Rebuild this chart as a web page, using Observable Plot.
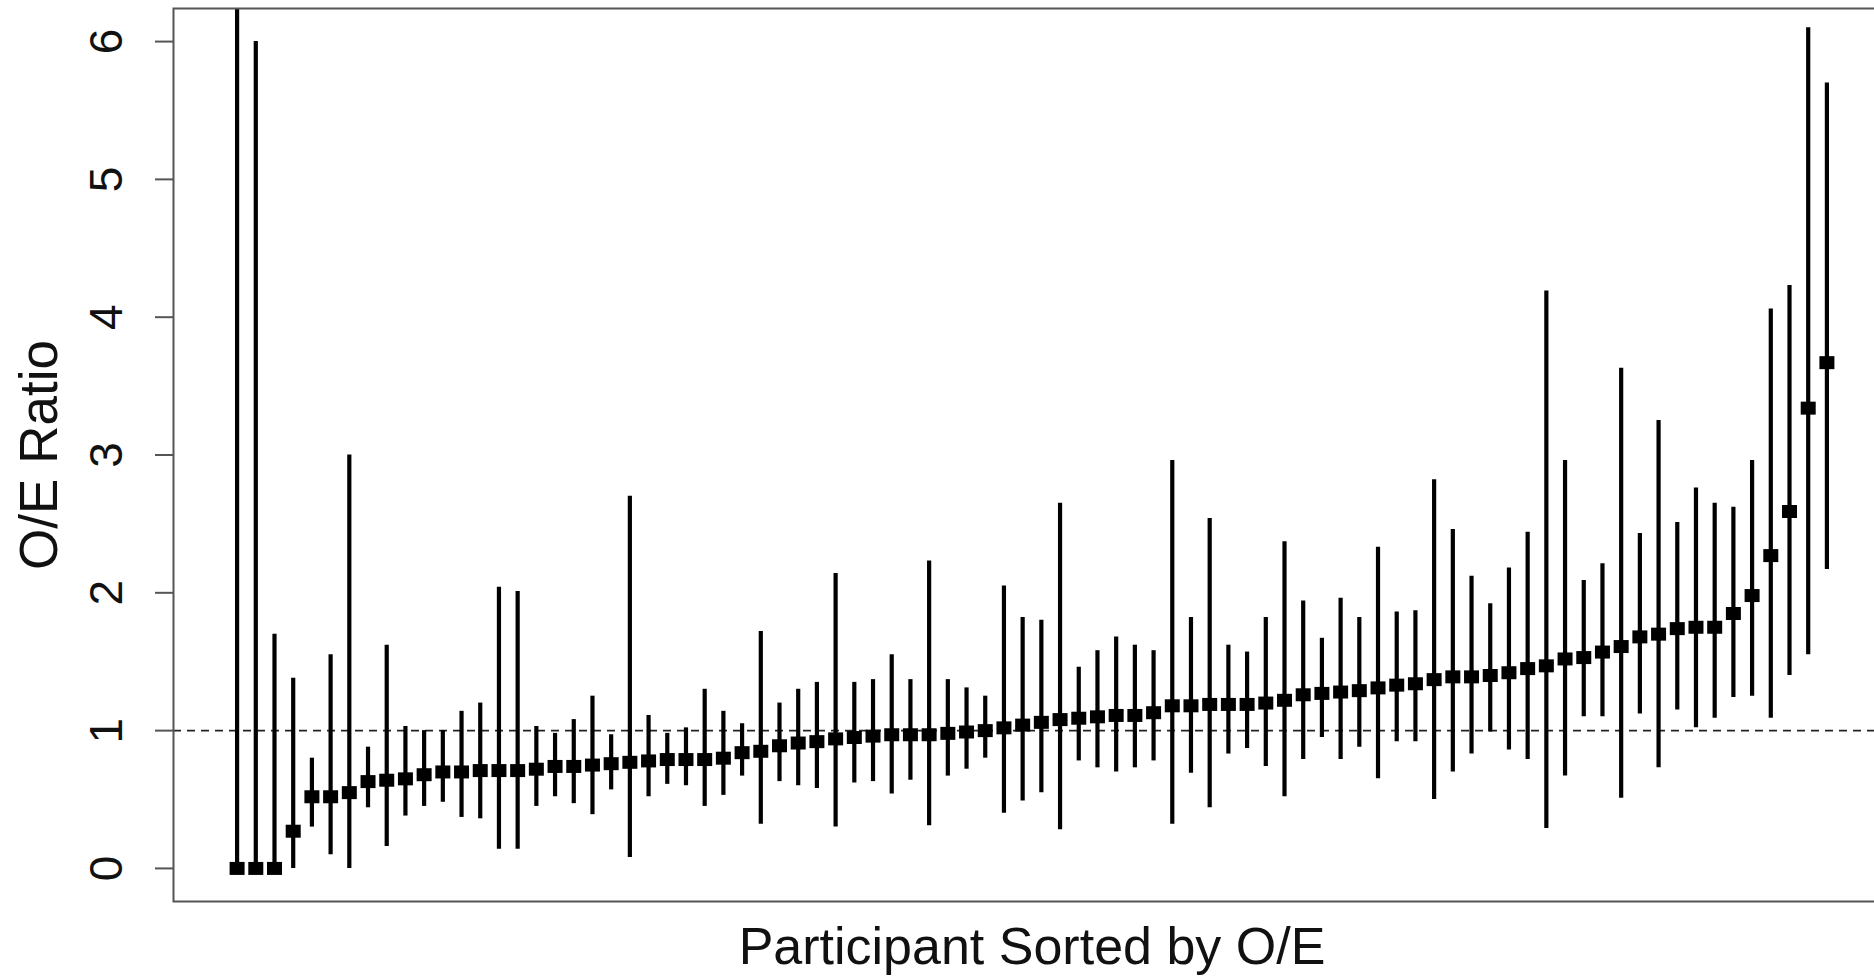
<!DOCTYPE html>
<html>
<head>
<meta charset="utf-8">
<script src="https://cdn.jsdelivr.net/npm/d3@7"></script>
<script src="https://cdn.jsdelivr.net/npm/@observablehq/plot@0.6"></script>
<style>
  html, body { margin: 0; padding: 0; background: #fff; }
  #chart { width: 1874px; height: 976px; overflow: hidden; }
</style>
</head>
<body>
<div id="chart"></div>
<script>
// O/E ratio per participant, sorted by O/E
const oe = [0, 0, 0, 0.27, 0.52, 0.52, 0.55, 0.63, 0.64, 0.65,
  0.68, 0.70, 0.70, 0.71, 0.71, 0.71, 0.72, 0.74, 0.74, 0.75,
  0.76, 0.77, 0.78, 0.79, 0.79, 0.79, 0.80, 0.84, 0.85, 0.89,
  0.91, 0.92, 0.94, 0.95, 0.96, 0.97, 0.97, 0.97, 0.98, 0.99,
  1.00, 1.02, 1.04, 1.06, 1.08, 1.09, 1.10, 1.11, 1.11, 1.13,
  1.18, 1.18, 1.19, 1.19, 1.19, 1.20, 1.22, 1.26, 1.27, 1.28,
  1.29, 1.31, 1.33, 1.34, 1.37, 1.39, 1.39, 1.40, 1.42, 1.45,
  1.47, 1.52, 1.53, 1.57, 1.61, 1.68, 1.70, 1.74, 1.75, 1.75,
  1.85, 1.98, 2.27, 2.59, 3.34, 3.67];
// lower 95% limits
const lower = [0, 0, 0, 0.0, 0.30, 0.10, 0.0, 0.44, 0.16, 0.38,
  0.45, 0.48, 0.37, 0.36, 0.14, 0.14, 0.45, 0.52, 0.47, 0.39,
  0.57, 0.08, 0.52, 0.61, 0.60, 0.45, 0.53, 0.67, 0.32, 0.63,
  0.60, 0.58, 0.30, 0.62, 0.63, 0.54, 0.64, 0.31, 0.67, 0.72,
  0.80, 0.40, 0.49, 0.55, 0.28, 0.78, 0.73, 0.70, 0.73, 0.78,
  0.32, 0.69, 0.44, 0.83, 0.87, 0.74, 0.52, 0.79, 0.95, 0.79,
  0.88, 0.65, 0.92, 0.92, 0.50, 0.70, 0.83, 0.99, 0.86, 0.79,
  0.29, 0.67, 1.10, 1.10, 0.51, 1.12, 0.73, 1.15, 1.02, 1.09,
  1.24, 1.25, 1.09, 1.40, 1.55, 2.17];
// upper 95% limits (first one runs off the top of the panel)
const upper = [8.0, 6.00, 1.70, 1.38, 0.80, 1.55, 3.00, 0.88, 1.62, 1.03,
  1.00, 1.00, 1.14, 1.20, 2.04, 2.01, 1.03, 0.98, 1.08, 1.25,
  0.97, 2.70, 1.11, 0.98, 1.02, 1.30, 1.14, 1.05, 1.72, 1.20,
  1.30, 1.35, 2.14, 1.35, 1.37, 1.55, 1.37, 2.23, 1.37, 1.31,
  1.25, 2.05, 1.82, 1.80, 2.65, 1.46, 1.58, 1.68, 1.62, 1.58,
  2.96, 1.82, 2.54, 1.62, 1.57, 1.82, 2.37, 1.94, 1.67, 1.96,
  1.82, 2.33, 1.86, 1.87, 2.82, 2.46, 2.12, 1.92, 2.18, 2.44,
  4.19, 2.96, 2.09, 2.21, 3.63, 2.43, 3.25, 2.51, 2.76, 2.65,
  2.62, 2.96, 4.06, 4.23, 6.10, 5.70];
const yTicks = [0, 1, 2, 3, 4, 5, 6];
const referenceLine = [1];
const xLabel = "Participant Sorted by O/E";
const yLabel = "O/E Ratio";

const data = oe.map((v, i) => ({participant: i + 1, oe: v, lo: lower[i], hi: upper[i]}));
const n = data.length;
// R-style 4% axis padding
const xpad = (n - 1) * 0.04;
const ypad = 6 * 0.04;

const font = "'Liberation Sans', Arial, Helvetica, sans-serif";
const rectSymbol = {draw(ctx) { ctx.rect(-7.5, -6.5, 15, 13); }};

const chart = Plot.plot({
  width: 1874,
  height: 976,
  marginLeft: 173,
  marginRight: -16,
  marginTop: 8,
  marginBottom: 75,
  style: {background: "#fff", fontFamily: font, color: "#000"},
  x: {domain: [1 - xpad, n + xpad], axis: null},
  y: {domain: [-ypad, 6 + ypad], axis: null},
  marks: [
    Plot.ruleY(referenceLine, {y: d => d, stroke: "#222", strokeWidth: 1.6, strokeDasharray: "8,6"}),
    Plot.ruleX(data, {x: "participant", y1: "lo", y2: "hi", stroke: "#000", strokeWidth: 4.2, clip: true}),
    Plot.dot(data, {x: "participant", y: "oe", symbol: rectSymbol, r: 4, fill: "#000", stroke: null}),
    Plot.frame({stroke: "#555", strokeWidth: 2}),
    Plot.axisY({ticks: yTicks, tickSize: 18, tickFormat: () => "", stroke: "#555", strokeWidth: 2}),
    Plot.text(yTicks, {y: d => d, text: d => String(d), frameAnchor: "left", dx: -52, rotate: -90,
      textAnchor: "middle", lineAnchor: "bottom", fontSize: 46, fill: "#111"}),
    Plot.text([yLabel], {text: d => d, frameAnchor: "left", dx: -117, rotate: -90,
      textAnchor: "middle", lineAnchor: "bottom", fontSize: 53, fill: "#111"}),
    Plot.text([xLabel], {text: d => d, frameAnchor: "bottom", dy: 62,
      textAnchor: "middle", lineAnchor: "bottom", fontSize: 52, fill: "#111"})
  ]
});
document.getElementById("chart").appendChild(chart);
</script>
</body>
</html>
